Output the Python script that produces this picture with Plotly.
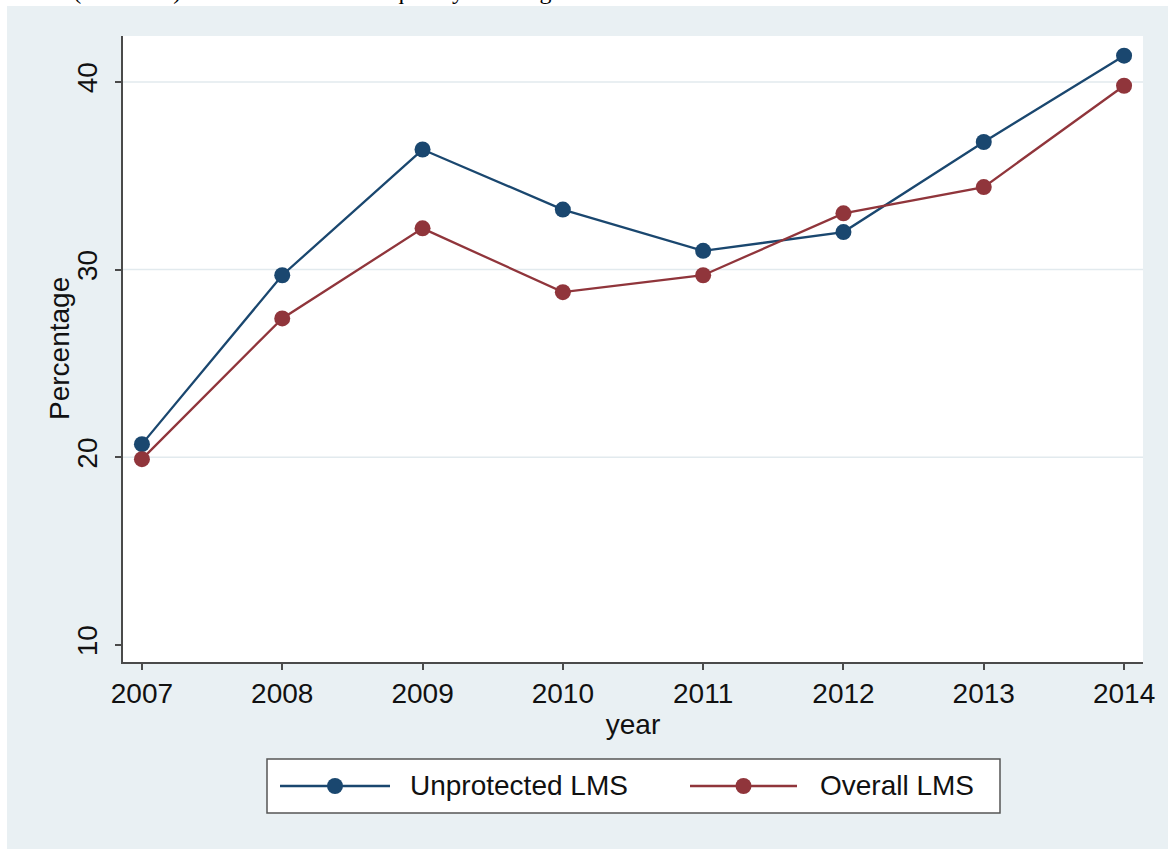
import plotly.graph_objects as go

years = [2007, 2008, 2009, 2010, 2011, 2012, 2013, 2014]
unprotected = [20.7, 29.7, 36.4, 33.2, 31.0, 32.0, 36.8, 41.4]
overall = [19.9, 27.4, 32.2, 28.8, 29.7, 33.0, 34.4, 39.8]
series_names = ["Unprotected LMS", "Overall LMS"]
series_colors = ["#1a476f", "#90353b"]
y_ticks = [10, 20, 30, 40]
grid_vals = [20, 30, 40]
caption = "Initial (AD/CVD) cases that were subsequently also targeted"
y_title = "Percentage"
x_title = "year"

W, H = 1168, 849
L, R, T, B = 123, 1143, 36, 662
PW, PH = R - L, B - T


def px(x):
    return (x - L) / PW


def py(y):
    return (B - y) / PH


FONT = "Liberation Sans"
FS = 28
BG = "#e9f0f3"
AXC = "#4a4a4a"

fig = go.Figure()
for vals, name, col in zip([unprotected, overall], series_names, series_colors):
    fig.add_trace(go.Scatter(
        x=years, y=vals, mode="lines+markers", name=name,
        line=dict(color=col, width=2.3),
        marker=dict(color=col, size=16),
        showlegend=False,
    ))

shapes = []
for g in grid_vals:
    shapes.append(dict(type="line", xref="paper", yref="y", x0=0, x1=1, y0=g, y1=g,
                       line=dict(color="#e2eaee", width=1.5), layer="below"))
shapes.append(dict(type="rect", xref="paper", yref="paper", x0=px(-5), x1=px(W + 5),
                   y0=py(6), y1=py(-5), fillcolor="white", line=dict(width=0), layer="above"))
shapes.append(dict(type="rect", xref="paper", yref="paper", x0=px(-5), x1=px(7),
                   y0=py(H + 5), y1=py(-5), fillcolor="white", line=dict(width=0), layer="above"))

lx0, lx1, ly0, ly1 = 267, 1000, 759, 813
shapes.append(dict(type="rect", xref="paper", yref="paper", x0=px(lx0), x1=px(lx1),
                   y0=py(ly1), y1=py(ly0), fillcolor="white",
                   line=dict(color="#555555", width=1.5), layer="above"))
annotations = []
ly = 786
items = [(280, 390, 408), (690, 797, 818)]
for (a, b, tx), name, col in zip(items, series_names, series_colors):
    shapes.append(dict(type="line", xref="paper", yref="paper", x0=px(a), x1=px(b),
                       y0=py(ly), y1=py(ly), line=dict(color=col, width=2.3), layer="above"))
    shapes.append(dict(type="circle", xref="paper", yref="paper",
                       xsizemode="pixel", ysizemode="pixel",
                       xanchor=px((a + b) / 2), yanchor=py(ly),
                       x0=-8, x1=8, y0=-8, y1=8,
                       fillcolor=col, line=dict(width=0), layer="above"))
    annotations.append(dict(xref="paper", yref="paper", x=px(tx), y=py(ly),
                            xanchor="left", yanchor="middle", showarrow=False,
                            text=name, font=dict(family=FONT, size=FS, color="#111111")))

annotations.append(dict(xref="paper", yref="paper", x=px(8), y=py(6),
                        xanchor="left", yanchor="bottom", showarrow=False,
                        text=caption,
                        font=dict(family="Liberation Serif", size=24, color="black")))
annotations.append(dict(xref="paper", yref="paper", x=px(59), y=0.5,
                        xanchor="center", yanchor="middle", showarrow=False, textangle=-90,
                        text=y_title, font=dict(family=FONT, size=FS, color="#111111")))

fig.update_layout(
    width=W, height=H,
    margin=dict(l=L, r=W - R, t=T, b=H - B, pad=0),
    paper_bgcolor=BG, plot_bgcolor="white",
    font=dict(family=FONT, size=FS, color="#111111"),
    shapes=shapes, annotations=annotations,
    showlegend=False,
    xaxis=dict(range=[2006.865, 2014.135], tickvals=years, ticktext=[str(y) for y in years],
               showgrid=False, zeroline=False, showline=True, linecolor=AXC, linewidth=1.5,
               ticks="outside", ticklen=6, tickcolor=AXC, tickwidth=1.5,
               tickfont=dict(size=FS), title=dict(text=x_title, font=dict(size=FS), standoff=6)),
    yaxis=dict(range=[9.09, 42.45], tickvals=y_ticks, showgrid=False, zeroline=False,
               showline=True, linecolor=AXC, linewidth=1.5, tickangle=-90,
               ticks="outside", ticklen=6, tickcolor=AXC, tickwidth=1.5, ticklabelstandoff=7,
               tickfont=dict(size=FS)),
)

fig.write_html("out.html", config={"displayModeBar": False},
               post_script="document.body.style.margin='0';document.body.style.overflow='hidden';")
